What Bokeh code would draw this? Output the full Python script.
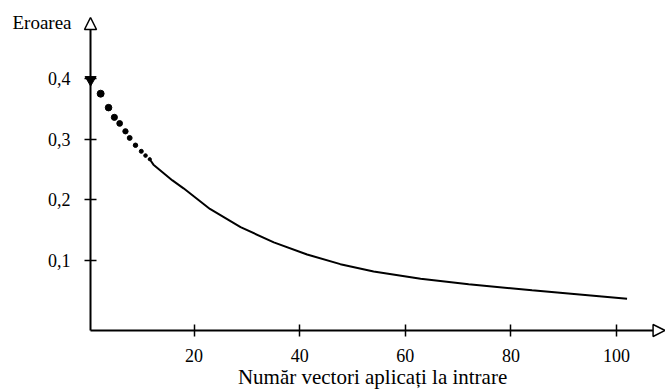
import numpy as np
from bokeh.plotting import figure
from bokeh.models import Range1d, Arrow, NormalHead, Label, ColumnDataSource
from bokeh.embed import file_html
from bokeh.resources import INLINE

# ---- data ----
dot_x = [0.4, 2.3, 3.8, 4.9, 5.9, 7.0, 7.8, 8.9, 10.0, 10.8, 11.6]
dot_y = [0.398, 0.375, 0.352, 0.336, 0.326, 0.313, 0.302, 0.290, 0.280, 0.273, 0.267]
line_x = [11.6, 12.3, 15.9, 18.0, 23.0, 28.8, 35.1, 41.4, 47.7, 54.0, 62.9, 72.0, 84.0, 93.0, 102.0]
line_y = [0.267, 0.258, 0.232, 0.219, 0.185, 0.155, 0.130, 0.110, 0.094, 0.082, 0.070, 0.061, 0.051, 0.044, 0.037]
x_ticks = [20, 40, 60, 80, 100]
y_ticks = [0.1, 0.2, 0.3, 0.4]
y_tick_labels = ["0,1", "0,2", "0,3", "0,4"]
y_title = "Eroarea"
x_title = "Număr vectori aplicați la intrare"

FONT = "Liberation Serif"

# axis positions (data units) and visible extents
x_axis_at = -0.0153   # y value where the x axis sits
y_axis_at = 0.38      # x value where the y axis sits
y_arrow_top = 0.5006
x_arrow_end = 109.2

p = figure(width=665, height=389, output_backend="svg", toolbar_location=None,
           x_range=Range1d(-16.667, 109.28), y_range=Range1d(-0.1126, 0.5286),
           min_border_left=0, min_border_right=0, min_border_top=0, min_border_bottom=0)
p.outline_line_color = None
p.xgrid.visible = False
p.ygrid.visible = False
p.background_fill_color = "white"
p.border_fill_color = "white"

for ax in (p.xaxis, p.yaxis):
    ax.axis_line_color = None
    ax.major_tick_in = 6
    ax.major_tick_out = 6
    ax.major_tick_line_color = "black"
    ax.major_tick_line_width = 1.5
    ax.minor_tick_line_color = None
    ax.major_label_text_font = FONT
    ax.major_label_text_font_size = "18px"
    ax.major_label_text_color = "black"

p.xaxis.fixed_location = x_axis_at
p.yaxis.fixed_location = y_axis_at
p.xaxis.ticker = x_ticks
p.yaxis.ticker = y_ticks
p.yaxis.major_label_overrides = {t: l for t, l in zip(y_ticks, y_tick_labels)}
p.yaxis.major_label_standoff = 14
p.xaxis.major_label_standoff = 13

# axes lines with hollow arrow heads
head_kw = dict(size=12, fill_color="white", line_color="black", line_width=1.5)
p.add_layout(Arrow(end=NormalHead(**head_kw), x_start=y_axis_at, y_start=x_axis_at,
                   x_end=y_axis_at, y_end=y_arrow_top, line_color="black", line_width=2))
p.add_layout(Arrow(end=NormalHead(**head_kw), x_start=y_axis_at, y_start=x_axis_at,
                   x_end=x_arrow_end, y_end=x_axis_at, line_color="black", line_width=2))

# curve: dotted beginning, then solid
p.line(line_x, line_y, line_color="black", line_width=2)
sizes = [11] + list(np.linspace(7, 3.2, len(dot_x) - 1))
markers = ["inverted_triangle"] + ["circle"] * (len(dot_x) - 1)
src = ColumnDataSource(dict(x=dot_x, y=dot_y, s=sizes, m=markers))
p.scatter("x", "y", size="s", marker="m", source=src, fill_color="black", line_color="black")

p.add_layout(Label(x=-14.4, y=0.4923, text=y_title, text_font=FONT, text_font_size="19px",
                   text_baseline="middle", text_align="left", text_color="black"))
p.add_layout(Label(x=53.8, y=-0.0928, text=x_title, text_font=FONT, text_font_size="21px",
                   text_baseline="middle", text_align="center", text_color="black"))

open("out.html", "w").write(file_html(p, INLINE))
